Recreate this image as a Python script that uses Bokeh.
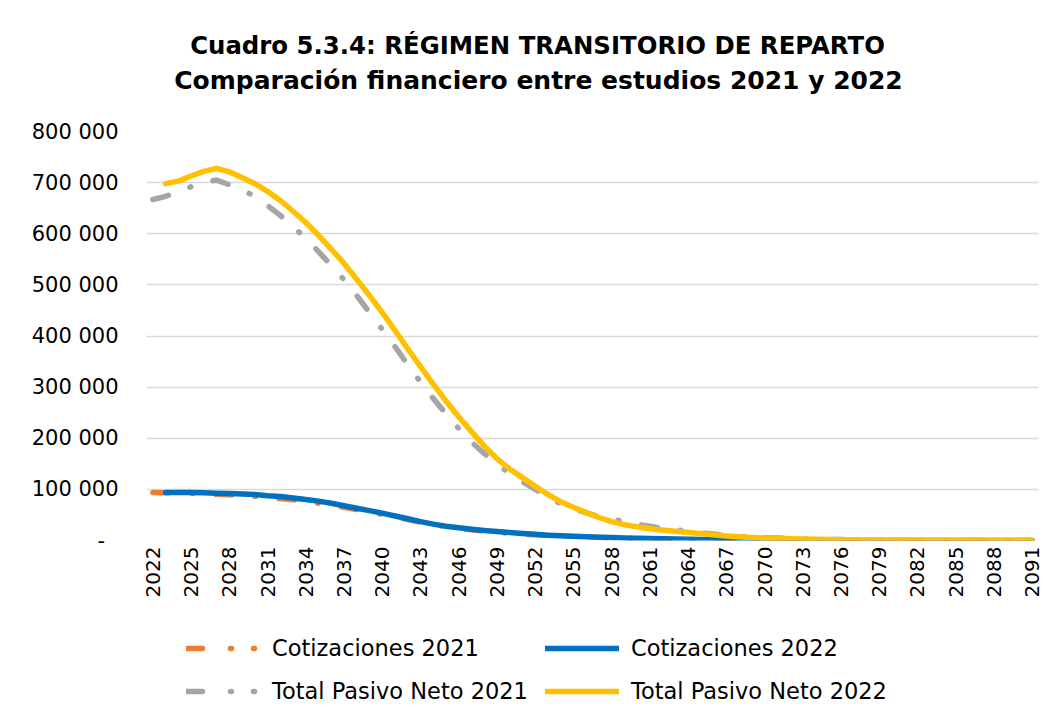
import math
from bokeh.plotting import figure
from bokeh.layouts import column
from bokeh.models import (ColumnDataSource, Legend, LegendItem, FixedTicker,
                          Label, Range1d)
from bokeh.embed import file_html
from bokeh.resources import INLINE

years = list(range(2022, 2092))

# Cotizaciones 2021 (2022..2091)
cot_2021 = [94000, 93500, 93000, 92500, 91500, 90500, 89500, 88000, 86500, 84500,
            82000, 79500, 76500, 73000, 69000, 65000, 60500, 56000, 51000, 46000,
            41000, 36000, 31500, 27500, 24000, 21000, 18500, 16000, 14000, 12500,
            11000, 9800, 8700, 7700, 6800, 6000, 5300, 4600, 4000, 3500,
            3000, 2600, 2200, 1900, 1600, 1300, 1100, 900, 750, 620,
            510, 420, 350, 290, 240, 200, 160, 130, 110, 90,
            70, 55, 45, 35, 28, 22, 17, 13, 10, 8]

# Cotizaciones 2022 (starts 2023)
cot_2022 = [None, 94000, 94000, 94000, 93500, 92500, 92000, 91000, 90000, 87500,
            86000, 83000, 80000, 77000, 73000, 68000, 63000, 58500, 53500, 48000,
            42500, 37000, 32000, 28000, 25000, 22000, 19500, 17500, 15500, 13500,
            12000, 10500, 9500, 8500, 7500, 6600, 5800, 5000, 4400, 3800,
            3300, 2800, 2400, 2000, 1700, 1400, 1200, 1000, 850, 700,
            580, 480, 400, 330, 270, 220, 180, 150, 120, 100,
            80, 65, 50, 40, 30, 25, 20, 15, 10, 8]

# Total Pasivo Neto 2021 (2022..2091)
tpn_2021 = [667000, 673000, 682000, 692000, 700000, 705000, 696000, 686000, 673000, 655000,
            636000, 614000, 591000, 565000, 538000, 510000, 479000, 446000, 413000, 379000,
            344000, 310000, 278000, 248000, 219000, 193000, 170000, 150000, 131000, 115000,
            100000, 85000, 72000, 62000, 54000, 47000, 42000, 37000, 32000, 28000,
            24000, 21000, 18000, 15000, 12500, 10000, 8500, 7000, 5800, 4800,
            4000, 3300, 2700, 2200, 1800, 1450, 1150, 900, 700, 550,
            430, 340, 270, 210, 160, 120, 90, 70, 55, 45]

# Total Pasivo Neto 2022 (starts 2023)
tpn_2022 = [None, 698000, 703000, 713000, 722000, 728000, 721000, 710000, 698000, 683000,
            665000, 644000, 622000, 597000, 570000, 542000, 511000, 479000, 446000, 411000,
            375000, 340000, 306000, 273000, 242000, 213000, 185000, 160000, 140000, 123000,
            106000, 90000, 76000, 65000, 55000, 45000, 37000, 31000, 27000, 23000,
            20500, 18000, 15500, 13500, 11000, 9000, 7500, 6000, 5000, 4200,
            3500, 2900, 2400, 2000, 1600, 1300, 1000, 800, 650, 500,
            400, 320, 250, 200, 150, 120, 90, 70, 50, 40]

y_ticks = [0, 100000, 200000, 300000, 400000, 500000, 600000, 700000, 800000]
y_labels = ["-\u00a0\u00a0", "100 000", "200 000", "300 000", "400 000",
            "500 000", "600 000", "700 000", "800 000"]
x_ticks = list(range(2022, 2092, 3))

title1 = "Cuadro 5.3.4: RÉGIMEN TRANSITORIO DE REPARTO"
title2 = "Comparación financiero entre estudios 2021 y 2022"

FONT = "DejaVu Sans"
W = 1048

STYLES = {
    "c21": dict(line_color="#ED7D31"),
    "c22": dict(line_color="#0070C0"),
    "t21": dict(line_color="#A5A5A5"),
    "t22": dict(line_color="#FFC000"),
}
DASH = "16 23 1 23"
LEG_DASH = "16 28 1 22 1 30"


def clean(vals):
    return [float("nan") if v is None else v for v in vals]


def blank_fig(h):
    f = figure(width=W, height=h, output_backend="svg", toolbar_location=None,
               title=None, x_range=Range1d(0, 1), y_range=Range1d(0, 1),
               min_border=0)
    f.axis.visible = False
    f.grid.visible = False
    f.outline_line_color = None
    f.background_fill_color = "white"
    f.border_fill_color = "white"
    return f


# ---- title figure (its frame is aligned with the chart frame, left = 146) ----
ptitle = blank_fig(110)
ptitle.add_layout(Label(x=391, y=65, x_units="screen", y_units="screen",
                        text=title1, text_font=FONT, text_font_size="24.4px",
                        text_font_style="bold", text_align="center",
                        text_baseline="middle", text_color="#000000"))
ptitle.add_layout(Label(x=392, y=30, x_units="screen", y_units="screen",
                        text=title2, text_font=FONT, text_font_size="25px",
                        text_font_style="bold", text_align="center",
                        text_baseline="middle", text_color="#000000"))

# ---- main chart ----
src = ColumnDataSource(dict(
    year=years,
    cot21=clean(cot_2021), cot22=clean(cot_2022),
    tpn21=clean(tpn_2021), tpn22=clean(tpn_2022),
))

p = figure(width=W, height=500, output_backend="svg", toolbar_location=None,
           title=None,
           x_range=Range1d(2021.5, 2091.5), y_range=Range1d(0, 800000),
           min_border_left=146, min_border_right=10, min_border_top=21,
           min_border_bottom=70)
p.outline_line_color = None
p.background_fill_color = "white"
p.border_fill_color = "white"

LW = 5.5
p.line("year", "cot21", source=src, line_width=LW, line_dash=DASH,
       line_cap="round", line_join="round", **STYLES["c21"])
p.line("year", "cot22", source=src, line_width=LW,
       line_cap="round", line_join="round", **STYLES["c22"])
p.line("year", "tpn21", source=src, line_width=LW, line_dash=DASH,
       line_cap="round", line_join="round", **STYLES["t21"])
p.line("year", "tpn22", source=src, line_width=LW,
       line_cap="round", line_join="round", **STYLES["t22"])

p.xaxis.ticker = FixedTicker(ticks=x_ticks)
p.xaxis.major_label_overrides = {t: str(t) for t in x_ticks}
p.xaxis.major_label_orientation = math.pi / 2
p.xaxis.axis_line_color = None
p.xaxis.major_tick_line_color = None
p.xaxis.minor_tick_line_color = None
p.xaxis.major_tick_out = 0
p.xaxis.major_tick_in = 0
p.xaxis.major_label_standoff = 6
p.xaxis.major_label_text_font = FONT
p.xaxis.major_label_text_font_size = "20px"
p.xaxis.major_label_text_color = "#000000"

p.yaxis.ticker = FixedTicker(ticks=y_ticks)
p.yaxis.major_label_overrides = {t: l for t, l in zip(y_ticks, y_labels)}
p.yaxis.axis_line_color = None
p.yaxis.major_tick_line_color = None
p.yaxis.minor_tick_line_color = None
p.yaxis.major_tick_out = 0
p.yaxis.major_tick_in = 0
p.yaxis.major_label_standoff = 28
p.yaxis.major_label_text_font = FONT
p.yaxis.major_label_text_font_size = "21px"
p.yaxis.major_label_text_color = "#000000"

p.xgrid.grid_line_color = None
p.ygrid.ticker = FixedTicker(ticks=y_ticks)
p.ygrid.grid_line_color = "#D9D9D9"
p.ygrid.grid_line_width = 1.5

# ---- legend figure (legend-only renderers hold no visible data) ----
pleg = blank_fig(105)
nan = float("nan")
lg = {}
for key, dash in (("c21", LEG_DASH), ("c22", "solid"), ("t21", LEG_DASH), ("t22", "solid")):
    lg[key] = pleg.line(x=[nan, nan], y=[nan, nan], line_width=LW, line_dash=dash,
                        line_cap="round", **STYLES[key])

legend = Legend(items=[
    LegendItem(label="Cotizaciones 2021", renderers=[lg["c21"]]),
    LegendItem(label="Total Pasivo Neto 2021", renderers=[lg["t21"]]),
    LegendItem(label="Cotizaciones 2022", renderers=[lg["c22"]]),
    LegendItem(label="Total Pasivo Neto 2022", renderers=[lg["t22"]]),
], ncols=2, location=(40, 9))
legend.border_line_color = None
legend.background_fill_alpha = 0
legend.padding = 0
legend.margin = 0
legend.spacing = 13
legend.glyph_width = 74
legend.glyph_height = 30
legend.label_standoff = 12
legend.label_width = 260
legend.label_height = 30
legend.label_text_font = FONT
legend.label_text_font_size = "22.5px"
legend.label_text_color = "#000000"
pleg.add_layout(legend, "center")

layout = column(ptitle, p, pleg, spacing=0)
open("out.html", "w").write(file_html(layout, INLINE))
